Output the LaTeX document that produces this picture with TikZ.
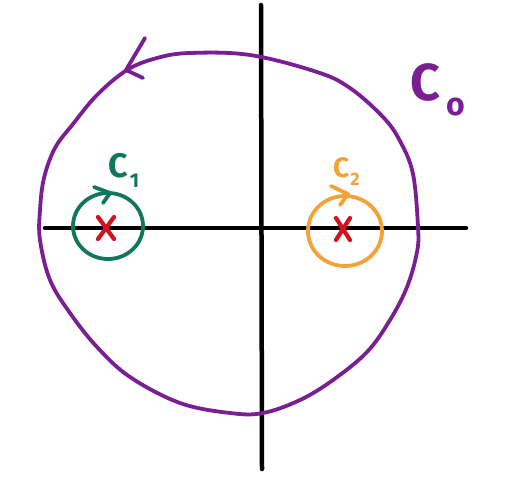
\documentclass[tikz,border=0pt]{standalone}
\usepackage{fontspec}
\setmainfont{Fira Sans}
\usetikzlibrary{calc}
\definecolor{cpurple}{HTML}{7A1F93}
\definecolor{cgreen}{HTML}{11775A}
\definecolor{corange}{HTML}{F2A236}
\definecolor{cred}{HTML}{D3121F}
\newcommand{\subt}[3]{\hspace{#3}\raisebox{-0.3em}{\fontsize{#1}{#1}\selectfont #2}}
\begin{document}
\begin{tikzpicture}[x=1pt,y=-1pt,line cap=round,line join=round,
  axis/.style={line width=4.5pt,black},
  contour/.style={line width=3.8pt},
  xmark/.style={line width=4.2pt,cred},
  lbl/.style={inner sep=0pt,anchor=base west}]
\useasboundingbox (0,0) rectangle (521,477);
% axes
\coordinate (hl) at (45,228);
\coordinate (hr) at (466,228);
\coordinate (vt) at (261,5);
\coordinate (vb) at (262,469);
\draw[axis] (hl) -- (hr);
\draw[axis] (vt) -- (vb);
% C0
\draw[contour,cpurple] plot[smooth cycle,tension=0.6] coordinates {
 (190,53) (250,55) (317,72) (350,88) (383,117) (400,141) (413,174) (418,227)
 (417,252) (407,287) (390,320) (367,352) (333,380) (300,400) (263,413) (230,413)
 (180,403) (130,377) (97,347) (70,313) (50,280) (40,240) (40,210) (44,178)
 (55,148) (73,124) (97,95) (127,70) (157,58)};
\coordinate (a0t) at (126,70);
\draw[contour,cpurple] (145,38) -- (a0t) -- (143,78);
% C1
\coordinate (c1) at (108,226);
\draw[contour,cgreen] (c1) ellipse [x radius=35, y radius=33];
\draw[contour,cgreen] (94,187) -- (110,193) -- (103,203);
% C2
\coordinate (c2) at (345,231);
\draw[contour,corange] (c2) ellipse [x radius=37, y radius=35];
\draw[contour,corange] (331,186) -- (348,194) -- (340,205);
% poles
\coordinate (p1) at (106,228);
\coordinate (p2) at (343,229);
\draw[xmark] ($(p1)+(-8,-11)$) -- ($(p1)+(8,11)$) ($(p1)+(8,-11)$) -- ($(p1)+(-8,11)$);
\draw[xmark] ($(p2)+(-7,-11)$) -- ($(p2)+(7,11)$) ($(p2)+(7,-11)$) -- ($(p2)+(-7,11)$);
% labels
\node[lbl,text=cpurple,font=\bfseries\fontsize{52}{52}\selectfont] (l0) at (410,100) {C\subt{32}{o}{6pt}};
\node[lbl,text=cgreen,font=\bfseries\fontsize{34}{34}\selectfont] (l1) at (108,177) {C\subt{20}{1}{2pt}};
\node[lbl,text=corange,font=\bfseries\fontsize{28}{28}\selectfont] (l2) at (333,177) {C\subt{18}{2}{1pt}};
\end{tikzpicture}
\end{document}
